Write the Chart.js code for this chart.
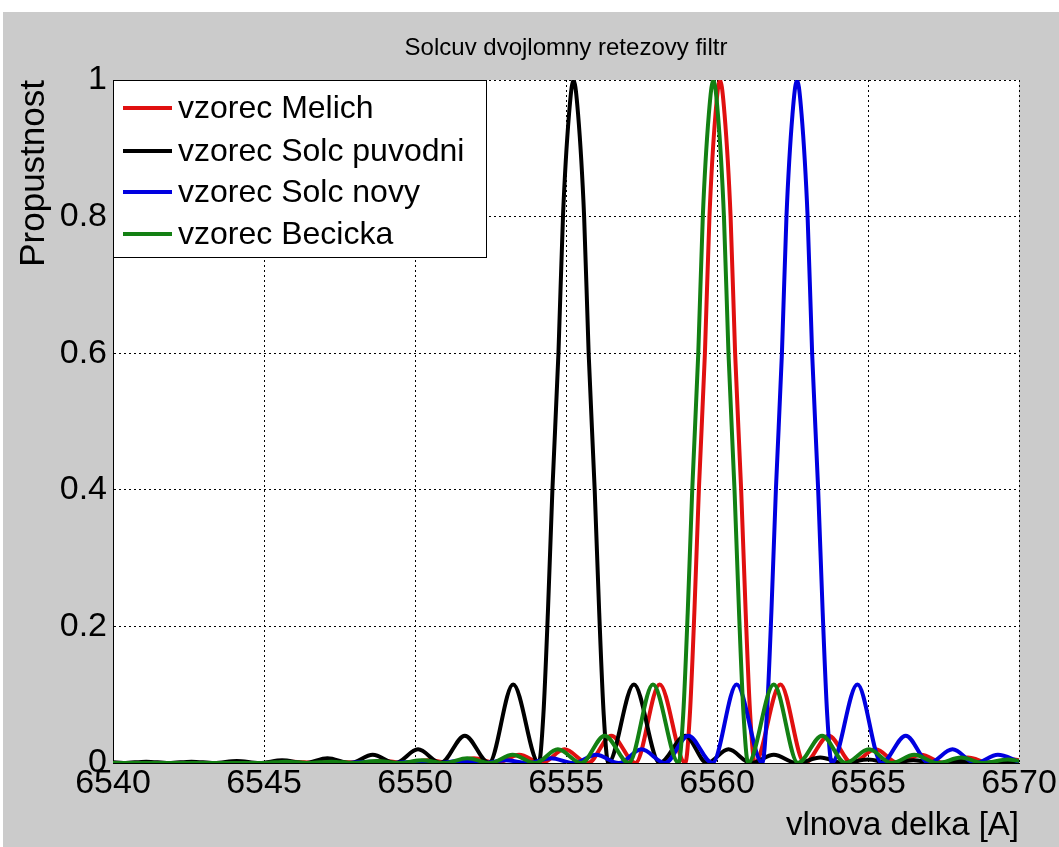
<!DOCTYPE html>
<html>
<head>
<meta charset="utf-8">
<script src="https://cdn.jsdelivr.net/npm/chart.js@4/dist/chart.umd.min.js"></script>
<style>
  html, body { margin: 0; padding: 0; background: #ffffff; }
  #wrap { position: absolute; left: 0; top: 0; width: 1059px; height: 847px; }
</style>
</head>
<body>
<div id="wrap"><canvas id="c" width="1059" height="847"></canvas></div>
<script>
// ---- data ----
const chartTitle = 'Solcuv dvojlomny retezovy filtr';
const xTitle = 'vlnova delka [A]';
const yTitle = 'Propustnost';
const xTicks = [6540, 6545, 6550, 6555, 6560, 6565, 6570];
const yTicks = [0, 0.2, 0.4, 0.6, 0.8, 1];
const seriesNames = ['vzorec Melich', 'vzorec Solc puvodni', 'vzorec Solc novy', 'vzorec Becicka'];

// vzorec Melich (red)
const melichX = [6540, 6545.2, 6545.95, 6546.7, 6547.45, 6548.2, 6548.95, 6549.7, 6550.45, 6551.2, 6551.95, 6552.7, 6553.45, 6554.2, 6554.95, 6555.73, 6556.5, 6557.3, 6558.1,
  6558.95, 6559.1, 6559.25, 6559.4, 6559.6, 6559.75, 6559.95, 6560.1, 6560.25, 6560.45, 6560.6, 6560.8, 6560.95, 6561.1, 6561.25,
  6562.1, 6562.9, 6563.7, 6564.47, 6565.25, 6566.0, 6566.75, 6567.53, 6568.3, 6569.05, 6569.85, 6570];
const melichY = [0, 0, 0.002, 0, 0.002, 0, 0.003, 0, 0.004, 0, 0.007, 0, 0.012, 0, 0.02, 0, 0.04, 0, 0.115,
  0, 0.07, 0.22, 0.4, 0.6, 0.8, 0.95, 1, 0.95, 0.8, 0.6, 0.4, 0.22, 0.07, 0,
  0.115, 0, 0.04, 0, 0.02, 0, 0.012, 0, 0.008, 0, 0.005, 0.004];

// vzorec Solc puvodni (black)
const solcOldX = [6540, 6540.35, 6541.1, 6541.85, 6542.6, 6543.35, 6544.1, 6544.85, 6545.6, 6546.35, 6547.1, 6547.85, 6548.6, 6549.35, 6550.1, 6550.85, 6551.65, 6552.45, 6553.25,
  6554.1, 6554.25, 6554.4, 6554.55, 6554.75, 6554.9, 6555.1, 6555.25, 6555.4, 6555.6, 6555.75, 6555.95, 6556.1, 6556.25, 6556.4,
  6557.25, 6558.1, 6558.95, 6559.67, 6560.38, 6561.12, 6561.88, 6562.65, 6563.42, 6564.2, 6565.0, 6565.75, 6566.5, 6567.25, 6568.0, 6568.75, 6569.5, 6570];
const solcOldY = [0.001, 0, 0.002, 0, 0.002, 0, 0.003, 0, 0.004, 0, 0.007, 0, 0.012, 0, 0.02, 0, 0.04, 0, 0.115,
  0, 0.07, 0.22, 0.4, 0.6, 0.8, 0.95, 1, 0.95, 0.8, 0.6, 0.4, 0.22, 0.07, 0,
  0.115, 0, 0.04, 0, 0.02, 0, 0.012, 0, 0.008, 0, 0.005, 0, 0.004, 0, 0.003, 0, 0.002, 0.001];

// vzorec Solc novy (blue)
const solcNewX = [6540, 6547.75, 6548.5, 6549.25, 6550.0, 6550.75, 6551.5, 6552.25, 6553.0, 6553.75, 6554.5, 6555.25, 6556.0, 6556.75, 6557.5, 6558.28, 6559.05, 6559.85, 6560.65,
  6561.5, 6561.65, 6561.8, 6561.95, 6562.15, 6562.3, 6562.5, 6562.65, 6562.8, 6563.0, 6563.15, 6563.35, 6563.5, 6563.65, 6563.8,
  6564.65, 6565.45, 6566.25, 6567.02, 6567.8, 6568.55, 6569.3, 6570];
const solcNewY = [0, 0, 0.002, 0, 0.002, 0, 0.003, 0, 0.004, 0, 0.007, 0, 0.012, 0, 0.02, 0, 0.04, 0, 0.115,
  0, 0.07, 0.22, 0.4, 0.6, 0.8, 0.95, 1, 0.95, 0.8, 0.6, 0.4, 0.22, 0.07, 0,
  0.115, 0, 0.04, 0, 0.02, 0, 0.012, 0.002];

// vzorec Becicka (green)
const becickaX = [6540, 6544.98, 6545.73, 6546.48, 6547.23, 6547.98, 6548.73, 6549.48, 6550.23, 6550.98, 6551.73, 6552.48, 6553.23, 6553.98, 6554.73, 6555.51, 6556.28, 6557.08, 6557.88,
  6558.73, 6558.88, 6559.03, 6559.18, 6559.38, 6559.53, 6559.73, 6559.88, 6560.03, 6560.23, 6560.38, 6560.58, 6560.73, 6560.88, 6561.03,
  6561.88, 6562.68, 6563.48, 6564.25, 6565.03, 6565.78, 6566.53, 6567.31, 6568.08, 6568.83, 6569.63, 6570];
const becickaY = [0, 0, 0.002, 0, 0.002, 0, 0.003, 0, 0.004, 0, 0.007, 0, 0.012, 0, 0.02, 0, 0.04, 0, 0.115,
  0, 0.07, 0.22, 0.4, 0.6, 0.8, 0.95, 1, 0.95, 0.8, 0.6, 0.4, 0.22, 0.07, 0,
  0.115, 0, 0.04, 0, 0.02, 0, 0.012, 0, 0.008, 0, 0.005, 0.003];

// ---- styling ----
const FONT = "'Liberation Sans', Arial, Helvetica, sans-serif";
const colors = ['#e01010', '#000000', '#0000e0', '#138013'];

function pts(xs, ys) { return xs.map((x, i) => ({ x: x, y: ys[i] })); }

const seriesX = [melichX, solcOldX, solcNewX, becickaX];
const seriesY = [melichY, solcOldY, solcNewY, becickaY];
// draw order: red bottom ... green top (as in MATLAB plotting order)
const drawOrder = [3, 2, 1, 0];

const datasets = seriesNames.map((name, i) => ({
  label: name,
  data: pts(seriesX[i], seriesY[i]),
  borderColor: colors[i],
  backgroundColor: colors[i],
  borderWidth: 4,
  pointRadius: 0,
  fill: false,
  cubicInterpolationMode: 'monotone',
  order: drawOrder[i]
}));

const figurePlugin = {
  id: 'figure',
  beforeDraw(chart) {
    const ctx = chart.ctx;
    const a = chart.chartArea;
    ctx.save();
    ctx.fillStyle = '#ffffff';
    ctx.fillRect(0, 0, chart.width, chart.height);
    ctx.fillStyle = '#cbcbcb';
    ctx.fillRect(3, 12, chart.width - 3, chart.height - 12);
    ctx.fillStyle = '#ffffff';
    ctx.fillRect(a.left, a.top, a.right - a.left, a.bottom - a.top);
    ctx.restore();
  },
  afterDraw(chart) {
    const ctx = chart.ctx;
    const a = chart.chartArea;
    ctx.save();
    // title
    ctx.fillStyle = '#000';
    ctx.font = '24px ' + FONT;
    ctx.textAlign = 'center';
    ctx.textBaseline = 'alphabetic';
    ctx.fillText(chartTitle, (a.left + a.right) / 2, 55);
    // legend box
    const bx = a.left, by = a.top, bw = 373, bh = 177;
    ctx.fillStyle = '#ffffff';
    ctx.fillRect(bx, by, bw, bh);
    ctx.strokeStyle = '#000';
    ctx.lineWidth = 1;
    ctx.strokeRect(bx + 0.5, by + 0.5, bw, bh);
    const rows = [108, 151, 192, 234];
    ctx.font = '32px ' + FONT;
    ctx.textAlign = 'left';
    ctx.textBaseline = 'middle';
    seriesNames.forEach((name, i) => {
      ctx.strokeStyle = colors[i];
      ctx.lineWidth = 4;
      ctx.beginPath();
      ctx.moveTo(bx + 10, rows[i]);
      ctx.lineTo(bx + 59, rows[i]);
      ctx.stroke();
      ctx.fillStyle = '#000';
      ctx.fillText(name, bx + 65, rows[i] + 1);
    });
    ctx.restore();
  }
};

new Chart(document.getElementById('c'), {
  type: 'line',
  data: { datasets: datasets },
  options: {
    responsive: false,
    animation: false,
    maintainAspectRatio: false,
    layout: { padding: { top: 80, right: 40, left: 0, bottom: 0 } },
    plugins: {
      legend: { display: false },
      title: { display: false },
      tooltip: { enabled: false }
    },
    scales: {
      x: {
        type: 'linear',
        min: 6540, max: 6570,
        afterFit(scale) { scale.height = 84; },
        afterBuildTicks(scale) { scale.ticks = xTicks.map(v => ({ value: v })); },
        ticks: {
          color: '#000',
          font: { family: FONT, size: 34 },
          padding: 0,
          maxRotation: 0,
          autoSkip: false,
          callback: (v) => String(v)
        },
        grid: { color: '#000', lineWidth: 1, drawTicks: false },
        border: { display: true, color: '#000', width: 1, dash: [2, 3] },
        title: {
          display: true, text: xTitle, align: 'end', color: '#000',
          font: { family: FONT, size: 33 }, padding: { top: 0, bottom: 1 }
        }
      },
      y: {
        type: 'linear',
        min: 0, max: 1,
        afterFit(scale) { scale.width = 113; },
        afterBuildTicks(scale) { scale.ticks = yTicks.map(v => ({ value: v })); },
        ticks: {
          color: '#000',
          font: { family: FONT, size: 34 },
          padding: 6,
          callback: (v) => String(v)
        },
        grid: { color: '#000', lineWidth: 1, drawTicks: false },
        border: { display: true, color: '#000', width: 1, dash: [2, 3] },
        title: {
          display: true, text: yTitle, align: 'end', color: '#000',
          font: { family: FONT, size: 35 }, padding: { top: 13, bottom: 0 }
        }
      }
    }
  },
  plugins: [figurePlugin]
});
</script>
</body>
</html>
